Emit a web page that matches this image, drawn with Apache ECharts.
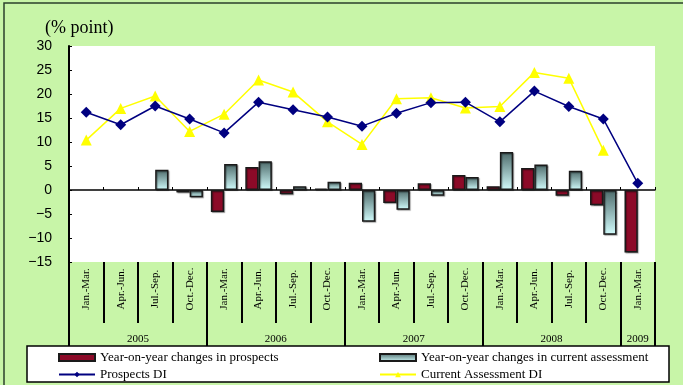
<!DOCTYPE html>
<html>
<head>
<meta charset="utf-8">
<script src="https://cdn.jsdelivr.net/npm/echarts@6/dist/echarts.min.js"></script>
<style>html,body{margin:0;padding:0;background:#c8f5a8;}#c{width:683px;height:385px;}</style>
</head>
<body>
<div id="c"></div>
<script>
var quarters = ['Jan.-Mar.','Apr.-Jun.','Jul.-Sep.','Oct.-Dec.','Jan.-Mar.','Apr.-Jun.','Jul.-Sep.','Oct.-Dec.','Jan.-Mar.','Apr.-Jun.','Jul.-Sep.','Oct.-Dec.','Jan.-Mar.','Apr.-Jun.','Jul.-Sep.','Oct.-Dec.','Jan.-Mar.'];
var years = ['2005','2006','2007','2008','2009'];
var yearQuarterCounts = [4,4,4,4,1];
var prospectsChange = [null,null,null,-0.5,-4.6,4.8,-0.9,0.3,1.5,-2.7,1.4,3.1,0.8,4.6,-1.2,-3.2,-13.0];
var currentChange = [null,null,4.2,-1.5,5.4,6.0,0.8,1.7,-6.6,-4.1,-1.2,2.7,7.9,5.3,4.0,-9.3,null];
var prospectsDI = [16.2,13.6,17.5,14.8,11.9,18.3,16.7,15.2,13.3,16.0,18.2,18.3,14.2,20.6,17.4,14.8,1.4];
var currentDI = [10.4,17.0,19.6,12.2,15.8,22.9,20.4,14.2,9.5,19.0,19.2,17.1,17.4,24.5,23.3,8.3,null];
var yTicks = {min:-15, max:30, interval:5};

var names = ['Year-on-year changes in prospects','Year-on-year changes in current assessment','Prospects DI','Current Assessment DI'];

// year boundaries & centers derived from counts
var yearBounds = [0], yearCenters = [], acc = 0;
yearQuarterCounts.forEach(function(n){ yearCenters.push(acc + n/2); acc += n; yearBounds.push(acc); });

var serif = 'Liberation Serif';
var chart = echarts.init(document.getElementById('c'), null, {renderer:'canvas'});
var tealGrad = new echarts.graphic.LinearGradient(0,0,0,1,[{offset:0,color:'#4d6a6a'},{offset:1,color:'#d2fdfd'}]);

chart.setOption({
  animation:false,
  backgroundColor:'#c8f5a8',
  title:{text:'(% point)', left:45, top:19, padding:0, textStyle:{fontFamily:serif, fontSize:18, fontWeight:'normal', color:'#000'}},
  grid:{left:69, right:28, top:46, bottom:123, show:true, backgroundColor:'#ffffff', borderWidth:0, outerBoundsMode:'none', containLabel:false},
  graphic:[
    {type:'rect', z:0, shape:{x:4, y:3, width:700, height:420}, style:{fill:'none', stroke:'#2b402b', lineWidth:1.5}},
    {type:'rect', z:0, shape:{x:27, y:346, width:642, height:36}, style:{fill:'#ffffff', stroke:'#000', lineWidth:1.5}}
  ],
  legend:[
    {z:10, orient:'vertical', left:58, top:351, padding:0, height:40, itemWidth:36, itemHeight:7, itemGap:4,
     textStyle:{fontFamily:serif, fontSize:13, color:'#000'},
     data:[{name:names[0], icon:'rect'}, {name:names[2]}]},
    {z:10, orient:'vertical', left:379, top:351, padding:0, height:40, itemWidth:36, itemHeight:7, itemGap:4,
     textStyle:{fontFamily:serif, fontSize:13, color:'#000'},
     data:[{name:names[1], icon:'rect'}, {name:names[3]}]}
  ],
  xAxis:[
    {type:'category', data:quarters, boundaryGap:true,
     axisLine:{show:true, onZero:true, lineStyle:{color:'#000', width:1.5}},
     axisTick:{show:true, inside:true, length:3, interval:0, lineStyle:{color:'#000', width:1}},
     axisLabel:{show:false}, splitLine:{show:false}},
    {type:'category', data:quarters, boundaryGap:true, position:'bottom',
     axisLine:{show:false, onZero:false},
     axisTick:{show:true, length:61, interval:0, lineStyle:{color:'#000', width:2}},
     axisLabel:{show:true, interval:0, rotate:90, align:'center', verticalAlign:'middle', margin:27,
       fontFamily:serif, fontSize:11, color:'#000'}},
    {type:'value', min:0, max:quarters.length, position:'bottom', offset:61,
     axisLine:{show:false, onZero:false}, splitLine:{show:false},
     axisTick:{show:true, length:23, customValues:yearBounds, lineStyle:{color:'#000', width:2}},
     axisLabel:{show:true, customValues:yearCenters, margin:11, fontFamily:serif, fontSize:11, color:'#000',
       formatter:function(v){ var i = yearCenters.indexOf(v); return i>=0 ? years[i] : ''; }}}
  ],
  yAxis:{type:'value', min:yTicks.min, max:yTicks.max, interval:yTicks.interval,
    axisLine:{show:true, lineStyle:{color:'#000', width:2}},
    axisTick:{show:true, inside:true, length:3, lineStyle:{color:'#000'}},
    splitLine:{show:false},
    axisLabel:{margin:17, fontFamily:'Liberation Sans', fontSize:14, color:'#000',
      formatter:function(v){ return String(v).replace('-', '\u2212'); }}},
  series:[
    {name:names[0], type:'bar', xAxisIndex:0, data:prospectsChange, barGap:'0%', barCategoryGap:'23%',
     itemStyle:{color:'#8c0a28', borderColor:'#1a1a1a', borderWidth:1.5, shadowColor:'rgba(0,0,0,0.35)', shadowOffsetX:1, shadowOffsetY:1, shadowBlur:1}},
    {name:names[1], type:'bar', xAxisIndex:0, data:currentChange, barGap:'0%', barCategoryGap:'23%',
     itemStyle:{color:tealGrad, borderColor:'#1a1a1a', borderWidth:1.5, shadowColor:'rgba(0,0,0,0.35)', shadowOffsetX:1, shadowOffsetY:1, shadowBlur:1}},
    {name:names[3], type:'line', xAxisIndex:0, data:currentDI, symbol:'triangle', symbolSize:11,
     lineStyle:{color:'#ffff00', width:1.5}, itemStyle:{color:'#ffff00'}, z:3},
    {name:names[2], type:'line', xAxisIndex:0, data:prospectsDI, symbol:'diamond', symbolSize:11,
     lineStyle:{color:'#000080', width:1.5}, itemStyle:{color:'#000080'}, z:4}
  ]
});
</script>
</body>
</html>
